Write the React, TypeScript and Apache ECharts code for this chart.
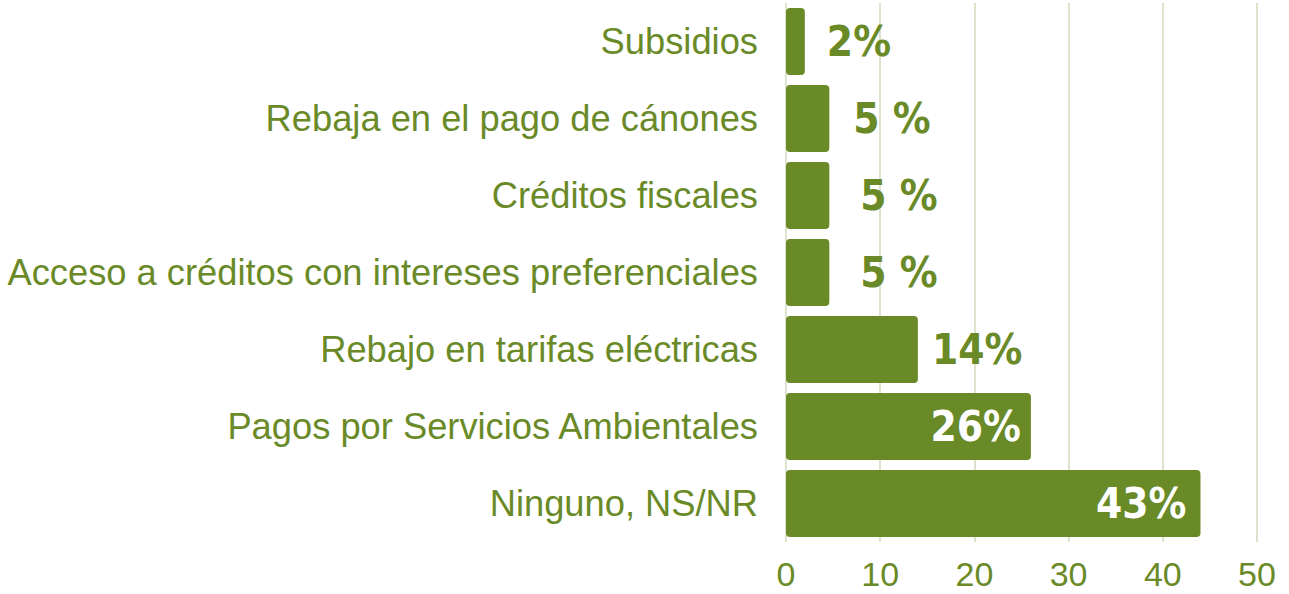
import React, { useEffect, useRef } from "react";
import * as echarts from "echarts";

const categories = [
  "Subsidios",
  "Rebaja en el pago de cánones",
  "Créditos fiscales",
  "Acceso a créditos con intereses preferenciales",
  "Rebajo en tarifas eléctricas",
  "Pagos por Servicios Ambientales",
  "Ninguno, NS/NR",
];
const values = [2, 4.6, 4.6, 4.6, 14, 26, 44];
const valueLabels = ["2%", "5 %", "5 %", "5 %", "14%", "26%", "43%"];
const labelInside = [false, false, false, false, false, true, true];
const labelDistance = [22, 24, 31, 31, 14, 10, 14];

const GREEN = "#6a8a28";

export default function App() {
  const ref = useRef<HTMLDivElement>(null);
  useEffect(() => {
    const chart = echarts.init(ref.current!, null, { renderer: "svg" });
    chart.setOption({
      animation: false,
      grid: { left: 786, right: 32, top: 3, bottom: 52, containLabel: false },
      xAxis: {
        type: "value",
        min: 0,
        max: 50,
        interval: 10,
        axisLine: { show: false },
        axisTick: { show: false },
        splitLine: { lineStyle: { color: "#dde3cc", width: 2 } },
        axisLabel: {
          color: GREEN,
          fontFamily: "Liberation Sans",
          fontSize: 34,
          margin: 15,
        },
      },
      yAxis: {
        type: "category",
        data: categories,
        inverse: true,
        axisLine: { show: false },
        axisTick: { show: false },
        axisLabel: {
          color: GREEN,
          fontFamily: "Liberation Sans",
          fontSize: 36.3,
          margin: 28,
        },
      },
      series: [
        {
          type: "bar",
          barCategoryGap: "13%",
          data: values.map((v, i) => ({
            value: v,
            label: {
              show: true,
              formatter: valueLabels[i],
              position: labelInside[i] ? "insideRight" : "right",
              distance: labelDistance[i],
              color: labelInside[i] ? "#ffffff" : GREEN,
              fontFamily: "DejaVu Sans Condensed",
              fontWeight: "bold",
              fontSize: 42,
            },
          })),
          itemStyle: { color: GREEN, borderRadius: 4 },
        },
      ],
    });
    return () => chart.dispose();
  }, []);
  return <div ref={ref} style={{ width: 1289, height: 594, position: "absolute", left: 0, top: 0 }} />;
}
